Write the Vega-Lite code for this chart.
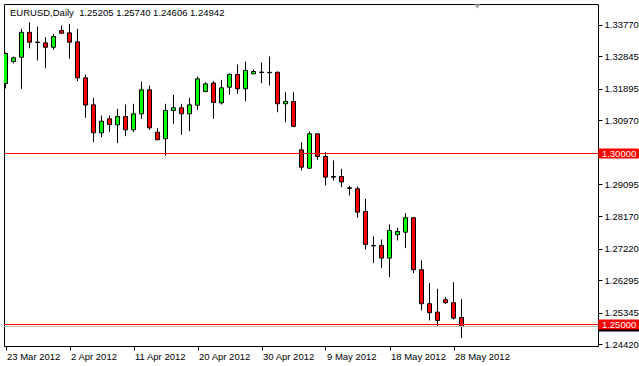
{
  "$schema": "https://vega.github.io/schema/vega-lite/v6.json",
  "width": 594,
  "height": 342,
  "autosize": {"type": "none"},
  "padding": {"left": 4, "top": 4, "right": 41, "bottom": 20},
  "background": "white",
  "config": {
    "view": {"stroke": "black", "strokeWidth": 1},
    "font": "Liberation Sans",
    "scale": {"continuousPadding": 0},
    "axis": {"labelFont": "Liberation Sans", "labelFontSize": 9.5, "labelColor": "black", "tickColor": "black", "domainColor": "black", "grid": false, "title": null, "labelOverlap": false, "labelFlush": false, "tickSize": 4, "domain": false, "tickCount": 30},
    "axisX": {"labelAlign": "left", "labelOffset": 1, "labelBaseline": "top", "labelPadding": 1},
    "axisY": {"labelPadding": 2, "labelAlign": "left", "labelBaseline": "middle"}
  },
  "datasets": {
    "ohlc": [
      {"d": "2012-03-23", "i": 0, "o": 1.32046, "h": 1.32952, "l": 1.31900, "c": 1.32923},
      {"d": "2012-03-25", "i": 1, "o": 1.32689, "h": 1.32835, "l": 1.32630, "c": 1.32797},
      {"d": "2012-03-26", "i": 2, "o": 1.32814, "h": 1.33644, "l": 1.31891, "c": 1.33545},
      {"d": "2012-03-27", "i": 3, "o": 1.33545, "h": 1.33837, "l": 1.33077, "c": 1.33253},
      {"d": "2012-03-28", "i": 4, "o": 1.33259, "h": 1.33712, "l": 1.32718, "c": 1.33244},
      {"d": "2012-03-29", "i": 5, "o": 1.33235, "h": 1.33399, "l": 1.32493, "c": 1.33107},
      {"d": "2012-03-30", "i": 6, "o": 1.33107, "h": 1.33498, "l": 1.33031, "c": 1.33419},
      {"d": "2012-04-01", "i": 7, "o": 1.33595, "h": 1.33741, "l": 1.33516, "c": 1.33516},
      {"d": "2012-04-02", "i": 8, "o": 1.33527, "h": 1.33790, "l": 1.32768, "c": 1.33253},
      {"d": "2012-04-03", "i": 9, "o": 1.33264, "h": 1.33644, "l": 1.32113, "c": 1.32212},
      {"d": "2012-04-04", "i": 10, "o": 1.32212, "h": 1.32309, "l": 1.31043, "c": 1.31418},
      {"d": "2012-04-05", "i": 11, "o": 1.31423, "h": 1.31628, "l": 1.30330, "c": 1.30605},
      {"d": "2012-04-06", "i": 12, "o": 1.30605, "h": 1.31111, "l": 1.30477, "c": 1.30944},
      {"d": "2012-04-08", "i": 13, "o": 1.31014, "h": 1.31111, "l": 1.30623, "c": 1.30848},
      {"d": "2012-04-09", "i": 14, "o": 1.30839, "h": 1.31307, "l": 1.30301, "c": 1.31082},
      {"d": "2012-04-10", "i": 15, "o": 1.31082, "h": 1.31432, "l": 1.30506, "c": 1.30693},
      {"d": "2012-04-11", "i": 16, "o": 1.30693, "h": 1.31453, "l": 1.30623, "c": 1.31160},
      {"d": "2012-04-12", "i": 17, "o": 1.31160, "h": 1.32104, "l": 1.31014, "c": 1.31862},
      {"d": "2012-04-13", "i": 18, "o": 1.31862, "h": 1.31987, "l": 1.30693, "c": 1.30751},
      {"d": "2012-04-15", "i": 19, "o": 1.30623, "h": 1.30740, "l": 1.30401, "c": 1.30401},
      {"d": "2012-04-16", "i": 20, "o": 1.30430, "h": 1.31453, "l": 1.29942, "c": 1.31257},
      {"d": "2012-04-17", "i": 21, "o": 1.31257, "h": 1.31716, "l": 1.30868, "c": 1.31336},
      {"d": "2012-04-18", "i": 22, "o": 1.31336, "h": 1.31453, "l": 1.30547, "c": 1.31160},
      {"d": "2012-04-19", "i": 23, "o": 1.31160, "h": 1.31628, "l": 1.30652, "c": 1.31423},
      {"d": "2012-04-20", "i": 24, "o": 1.31412, "h": 1.32250, "l": 1.31277, "c": 1.32183},
      {"d": "2012-04-22", "i": 25, "o": 1.31812, "h": 1.32084, "l": 1.31792, "c": 1.32037},
      {"d": "2012-04-23", "i": 26, "o": 1.32060, "h": 1.32119, "l": 1.31014, "c": 1.31491},
      {"d": "2012-04-24", "i": 27, "o": 1.31482, "h": 1.32154, "l": 1.31432, "c": 1.31920},
      {"d": "2012-04-25", "i": 28, "o": 1.31938, "h": 1.32347, "l": 1.31716, "c": 1.32309},
      {"d": "2012-04-26", "i": 29, "o": 1.32309, "h": 1.32601, "l": 1.31745, "c": 1.31891},
      {"d": "2012-04-27", "i": 30, "o": 1.31891, "h": 1.32689, "l": 1.31529, "c": 1.32426},
      {"d": "2012-04-29", "i": 31, "o": 1.32329, "h": 1.32455, "l": 1.32329, "c": 1.32397},
      {"d": "2012-04-30", "i": 32, "o": 1.32382, "h": 1.32660, "l": 1.32055, "c": 1.32367},
      {"d": "2012-05-01", "i": 33, "o": 1.32376, "h": 1.32835, "l": 1.31987, "c": 1.32362},
      {"d": "2012-05-02", "i": 34, "o": 1.32376, "h": 1.32397, "l": 1.31207, "c": 1.31453},
      {"d": "2012-05-03", "i": 35, "o": 1.31453, "h": 1.31792, "l": 1.30915, "c": 1.31520},
      {"d": "2012-05-04", "i": 36, "o": 1.31520, "h": 1.31792, "l": 1.30769, "c": 1.30795},
      {"d": "2012-05-06", "i": 37, "o": 1.30108, "h": 1.30330, "l": 1.29503, "c": 1.29600},
      {"d": "2012-05-07", "i": 38, "o": 1.29571, "h": 1.30643, "l": 1.29553, "c": 1.30576},
      {"d": "2012-05-08", "i": 39, "o": 1.30576, "h": 1.30576, "l": 1.29816, "c": 1.29913},
      {"d": "2012-05-09", "i": 40, "o": 1.29913, "h": 1.30038, "l": 1.29065, "c": 1.29308},
      {"d": "2012-05-10", "i": 41, "o": 1.29328, "h": 1.29796, "l": 1.29211, "c": 1.29308},
      {"d": "2012-05-11", "i": 42, "o": 1.29328, "h": 1.29553, "l": 1.29015, "c": 1.29167},
      {"d": "2012-05-13", "i": 43, "o": 1.28998, "h": 1.29051, "l": 1.28773, "c": 1.28977},
      {"d": "2012-05-14", "i": 44, "o": 1.28969, "h": 1.29036, "l": 1.28121, "c": 1.28285},
      {"d": "2012-05-15", "i": 45, "o": 1.28305, "h": 1.28676, "l": 1.27195, "c": 1.27341},
      {"d": "2012-05-16", "i": 46, "o": 1.27312, "h": 1.27575, "l": 1.26795, "c": 1.27297},
      {"d": "2012-05-17", "i": 47, "o": 1.27312, "h": 1.27487, "l": 1.26648, "c": 1.26941},
      {"d": "2012-05-18", "i": 48, "o": 1.26941, "h": 1.27925, "l": 1.26385, "c": 1.27750},
      {"d": "2012-05-20", "i": 49, "o": 1.27624, "h": 1.27829, "l": 1.27458, "c": 1.27721},
      {"d": "2012-05-21", "i": 50, "o": 1.27700, "h": 1.28256, "l": 1.27233, "c": 1.28121},
      {"d": "2012-05-22", "i": 51, "o": 1.28121, "h": 1.28121, "l": 1.26502, "c": 1.26602},
      {"d": "2012-05-23", "i": 52, "o": 1.26602, "h": 1.26873, "l": 1.25412, "c": 1.25608},
      {"d": "2012-05-24", "i": 53, "o": 1.25608, "h": 1.26210, "l": 1.25120, "c": 1.25345},
      {"d": "2012-05-25", "i": 54, "o": 1.25363, "h": 1.26046, "l": 1.24953, "c": 1.25120},
      {"d": "2012-05-27", "i": 55, "o": 1.25725, "h": 1.25801, "l": 1.25608, "c": 1.25637},
      {"d": "2012-05-28", "i": 56, "o": 1.25637, "h": 1.26239, "l": 1.25149, "c": 1.25187},
      {"d": "2012-05-29", "i": 57, "o": 1.25205, "h": 1.25740, "l": 1.24606, "c": 1.24942}
    ],
    "levels": [
      {"p": 1.30000, "label": "1.30000"},
      {"p": 1.25000, "label": "1.25000"}
    ],
    "bid": [
      {"p": 1.24942}
    ]
  },
  "layer": [
    {
      "data": {"name": "ohlc"},
      "mark": {"type": "rule", "color": "black", "strokeWidth": 1, "clip": true},
      "encoding": {
        "x": {
          "field": "i", "type": "quantitative",
          "scale": {"domain": [-0.1875, 74.0625], "nice": false, "zero": false, "padding": 0},
          "axis": {
            "values": [0, 8, 16, 24, 32, 40, 48, 56],
            "tickCount": 30,
            "labelExpr": "['23 Mar 2012','2 Apr 2012','11 Apr 2012','20 Apr 2012','30 Apr 2012','9 May 2012','18 May 2012','28 May 2012'][round(datum.value/8)]"
          }
        },
        "y": {
          "field": "l", "type": "quantitative",
          "scale": {"domain": [1.243713, 1.343713], "nice": false, "zero": false, "padding": 0},
          "axis": {
            "orient": "right",
            "values": [1.3377, 1.32845, 1.31895, 1.3097, 1.29095, 1.2817, 1.2722, 1.26295, 1.25345, 1.2442],
            "tickCount": 30,
            "format": ".5f"
          }
        },
        "y2": {"field": "h"}
      }
    },
    {
      "data": {"name": "ohlc"},
      "mark": {"type": "bar", "width": 4, "stroke": "black", "strokeWidth": 1, "clip": true},
      "encoding": {
        "x": {"field": "i", "type": "quantitative", "scale": {"domain": [-0.1875, 74.0625], "nice": false, "zero": false, "padding": 0}},
        "y": {"field": "o", "type": "quantitative", "scale": {"domain": [1.243713, 1.343713], "nice": false, "zero": false, "padding": 0}},
        "y2": {"field": "c"},
        "fill": {"condition": {"test": "datum.c > datum.o", "value": "#00ff00"}, "value": "#ff0000"}
      }
    },
    {
      "data": {"name": "bid"},
      "mark": {"type": "rule", "color": "#c0c0c0", "strokeWidth": 1},
      "encoding": {
        "x": {"datum": -0.1875, "type": "quantitative", "scale": {"domain": [-0.1875, 74.0625], "nice": false, "zero": false, "padding": 0}},
        "x2": {"datum": 74.0625},
        "y": {"field": "p", "type": "quantitative", "scale": {"domain": [1.243713, 1.343713], "nice": false, "zero": false, "padding": 0}}
      }
    },
    {
      "data": {"name": "levels"},
      "mark": {"type": "rule", "color": "#ff0000", "strokeWidth": 1},
      "encoding": {
        "x": {"datum": -0.1875, "type": "quantitative", "scale": {"domain": [-0.1875, 74.0625], "nice": false, "zero": false, "padding": 0}},
        "x2": {"datum": 74.0625},
        "y": {"field": "p", "type": "quantitative", "scale": {"domain": [1.243713, 1.343713], "nice": false, "zero": false, "padding": 0}}
      }
    },
    {
      "data": {"name": "bid"},
      "mark": {"type": "rule", "color": "black", "strokeWidth": 10, "strokeCap": "butt"},
      "encoding": {
        "x": {"datum": 74.1, "type": "quantitative", "scale": {"domain": [-0.1875, 74.0625], "nice": false, "zero": false, "padding": 0}},
        "x2": {"datum": 79.3},
        "y": {"field": "p", "type": "quantitative", "scale": {"domain": [1.243713, 1.343713], "nice": false, "zero": false, "padding": 0}}
      }
    },
    {
      "data": {"name": "levels"},
      "mark": {"type": "rule", "color": "#ff0000", "strokeWidth": 10, "strokeCap": "butt"},
      "encoding": {
        "x": {"datum": 74.1, "type": "quantitative", "scale": {"domain": [-0.1875, 74.0625], "nice": false, "zero": false, "padding": 0}},
        "x2": {"datum": 79.3},
        "y": {"field": "p", "type": "quantitative", "scale": {"domain": [1.243713, 1.343713], "nice": false, "zero": false, "padding": 0}}
      }
    },
    {
      "data": {"name": "levels"},
      "mark": {"type": "text", "color": "white", "align": "left", "baseline": "middle", "fontSize": 9.5, "font": "Liberation Sans", "dy": 0.5},
      "encoding": {
        "x": {"datum": 74.55, "type": "quantitative", "scale": {"domain": [-0.1875, 74.0625], "nice": false, "zero": false, "padding": 0}},
        "y": {"field": "p", "type": "quantitative", "scale": {"domain": [1.243713, 1.343713], "nice": false, "zero": false, "padding": 0}},
        "text": {"field": "label"}
      }
    },
    {
      "data": {"values": [{"t": "EURUSD,Daily\u00a0 1.25205 1.25740 1.24606 1.24942"}]},
      "mark": {"type": "text", "color": "black", "align": "left", "baseline": "alphabetic", "fontSize": 9.5, "font": "Liberation Sans"},
      "encoding": {
        "x": {"datum": 0.5625, "type": "quantitative", "scale": {"domain": [-0.1875, 74.0625], "nice": false, "zero": false, "padding": 0}},
        "y": {"datum": 1.340292, "type": "quantitative", "scale": {"domain": [1.243713, 1.343713], "nice": false, "zero": false, "padding": 0}},
        "text": {"field": "t"}
      }
    },
    {
      "data": {"values": [{"m": "shift"}]},
      "mark": {"type": "point", "shape": "triangle-down", "filled": true, "color": "#a0a0a0", "size": 30, "opacity": 1},
      "encoding": {
        "x": {"datum": 58.97, "type": "quantitative", "scale": {"domain": [-0.1875, 74.0625], "nice": false, "zero": false, "padding": 0}},
        "y": {"datum": 1.342982, "type": "quantitative", "scale": {"domain": [1.243713, 1.343713], "nice": false, "zero": false, "padding": 0}}
      }
    }
  ]
}
